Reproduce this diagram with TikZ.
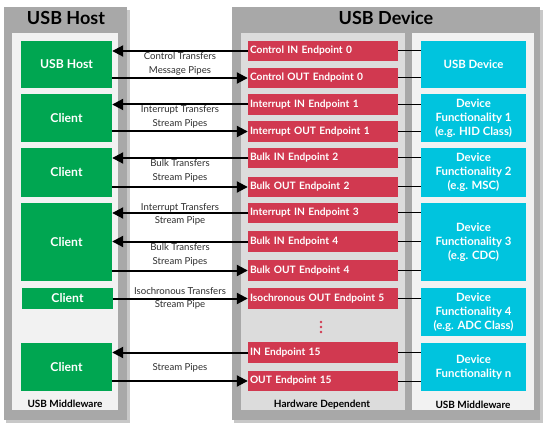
\documentclass[tikz,border=0pt]{standalone}
\usepackage{fontspec}
\setmainfont{Lato}
\usetikzlibrary{arrows.meta}

\definecolor{hostgreen}{RGB}{0,166,81}
\definecolor{epred}{RGB}{209,57,80}
\definecolor{funccyan}{RGB}{0,196,222}
\definecolor{panelgrey}{RGB}{168,168,168}
\definecolor{shadegrey}{RGB}{200,200,200}
\definecolor{lightpanel}{RGB}{242,242,242}
\definecolor{hwpanel}{RGB}{220,220,220}
\definecolor{lblgrey}{RGB}{45,45,45}

\begin{document}
\begin{tikzpicture}[x=1pt,y=-1pt,
  hostbox/.style={fill=hostgreen,text=white,font=\bfseries\fontsize{12.2}{14}\selectfont,
    minimum width=91pt,inner sep=0pt},
  epbox/.style={fill=epred,text=white,font=\bfseries\fontsize{10.2}{11}\selectfont,
    text width=146pt,minimum height=20.5pt,align=left,inner sep=2pt},
  funcbox/.style={fill=funccyan,text=white,font=\bfseries\fontsize{11.4}{14}\selectfont,
    minimum width=105pt,align=center,inner sep=0pt},
  titlelbl/.style={font=\bfseries\fontsize{18}{20}\selectfont,text=black},
  footlbl/.style={font=\bfseries\fontsize{10}{11}\selectfont,text=black},
  pipelbl/.style={font=\fontsize{9.6}{13.5}\selectfont,text=lblgrey,align=center},
  pipe/.style={line width=2pt,-{Triangle[length=11pt,width=11pt]}},
  link/.style={line width=1pt}]

  \useasboundingbox (0,0) rectangle (544,425);

  % panels
  \fill[shadegrey] (6,10) rectangle (130,423);
  \fill[panelgrey] (4,7) rectangle (127,420);
  \fill[lightpanel] (12,33) rectangle (118,410);
  \fill[shadegrey] (234,10) rectangle (543,423);
  \fill[panelgrey] (232,7) rectangle (540,420);
  \fill[hwpanel] (241,33) rectangle (405,410);
  \fill[lightpanel] (412,33) rectangle (534,410);

  \node[titlelbl] (hosttitle) at (66,18) {USB Host};
  \node[titlelbl] (devtitle) at (386,18) {USB Device};
  \node[footlbl] (hostfoot) at (65,404) {USB Middleware};
  \node[footlbl] (hwfoot) at (322,405) {Hardware Dependent};
  \node[footlbl] (devfoot) at (473,405) {USB Middleware};

  % host side
  \node[hostbox,minimum height=47pt] (g1) at (66.5,64.5) {USB Host};
  \node[hostbox,minimum height=48pt] (g2) at (66.5,118) {Client};
  \node[hostbox,minimum height=49pt] (g3) at (66.5,172.5) {Client};
  \node[hostbox,minimum height=78pt] (g4) at (66.5,242) {Client};
  \node[hostbox,minimum height=21pt] (g5) at (67.5,298) {Client};
  \node[hostbox,minimum height=48pt] (g6) at (66.5,367) {Client};

  % endpoints
  \node[epbox] (r1) at (323,51) {Control IN Endpoint 0};
  \node[epbox] (r2) at (323,78) {Control OUT Endpoint 0};
  \node[epbox] (r3) at (323,104.5) {Interrupt IN Endpoint 1};
  \node[epbox] (r4) at (323,131.5) {Interrupt OUT Endpoint 1};
  \node[epbox] (r5) at (323,158) {Bulk IN Endpoint 2};
  \node[epbox] (r6) at (323,187) {Bulk OUT Endpoint 2};
  \node[epbox] (r7) at (323,213) {Interrupt IN Endpoint 3};
  \node[epbox] (r8) at (323,241.5) {Bulk IN Endpoint 4};
  \node[epbox] (r9) at (323,270.5) {Bulk OUT Endpoint 4};
  \node[epbox] (r10) at (323,298.5) {Isochronous OUT Endpoint 5};
  \node[epbox] (r11) at (323,352.5) {IN Endpoint 15};
  \node[epbox] (r12) at (323,381) {OUT Endpoint 15};
  \fill[epred] (321,322) circle (1.4) (321,327) circle (1.4) (321,332) circle (1.4);

  % device functions
  \node[funcbox,minimum height=47pt] (c1) at (473.5,64.5) {USB Device};
  \node[funcbox,minimum height=48pt] (c2) at (473.5,118) {Device\\Functionality 1\\(e.g. HID Class)};
  \node[funcbox,minimum height=49pt] (c3) at (473.5,172.5) {Device\\Functionality 2\\(e.g. MSC)};
  \node[funcbox,minimum height=78pt] (c4) at (473.5,242) {Device\\Functionality 3\\(e.g. CDC)};
  \node[funcbox,minimum height=48pt] (c5) at (473.5,312) {Device\\Functionality 4\\(e.g. ADC Class)};
  \node[funcbox,minimum height=48pt] (c6) at (473.5,367) {Device\\Functionality n};

  % transfers
  \draw[pipe] (r1.west) -- (g1.east |- r1.west);
  \draw[pipe] (g1.east |- r2.west) -- (r2.west);
  \draw[pipe] (r3.west) -- (g2.east |- r3.west);
  \draw[pipe] (g2.east |- r4.west) -- (r4.west);
  \draw[pipe] (r5.west) -- (g3.east |- r5.west);
  \draw[pipe] (g3.east |- r6.west) -- (r6.west);
  \draw[pipe] (r7.west) -- (g4.east |- r7.west);
  \draw[pipe] (r8.west) -- (g4.east |- r8.west);
  \draw[pipe] (g4.east |- r9.west) -- (r9.west);
  \draw[pipe] (g5.east |- r10.west) -- (r10.west);
  \draw[pipe] (r11.west) -- (g6.east |- r11.west);
  \draw[pipe] (g6.east |- r12.west) -- (r12.west);

  \node[pipelbl] (t1) at (180,64) {Control Transfers\\Message Pipes};
  \node[pipelbl] (t2) at (180,117) {Interrupt Transfers\\Stream Pipes};
  \node[pipelbl] (t3) at (180,171) {Bulk Transfers\\Stream Pipes};
  \node[pipelbl] (t4) at (180,214.5) {Interrupt Transfers\\Stream Pipe};
  \node[pipelbl] (t5) at (180,255) {Bulk Transfers\\Stream Pipes};
  \node[pipelbl] (t6) at (180,298.5) {Isochronous Transfers\\Stream Pipe};
  \node[pipelbl] (t7) at (180,368) {Stream Pipes};

  % links to functions
  \draw[link] (r1.east) -- (c1.west |- r1.east);
  \draw[link] (r2.east) -- (c1.west |- r2.east);
  \draw[link] (r3.east) -- (c2.west |- r3.east);
  \draw[link] (r4.east) -- (c2.west |- r4.east);
  \draw[link] (r5.east) -- (c3.west |- r5.east);
  \draw[link] (r6.east) -- (c3.west |- r6.east);
  \draw[link] (r7.east) -- (c4.west |- r7.east);
  \draw[link] (r8.east) -- (c4.west |- r8.east);
  \draw[link] (r9.east) -- (c4.west |- r9.east);
  \draw[link] (r10.east) -- (c5.west |- r10.east);
  \draw[link] (r11.east) -- (c6.west |- r11.east);
  \draw[link] (r12.east) -- (c6.west |- r12.east);
\end{tikzpicture}
\end{document}
